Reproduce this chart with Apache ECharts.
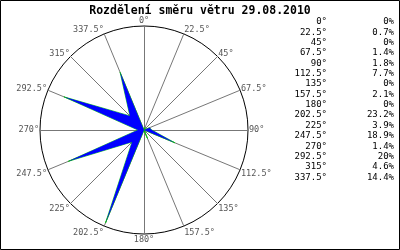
<!DOCTYPE html>
<html>
<head>
<meta charset="utf-8">
<script src="https://cdn.jsdelivr.net/npm/echarts@6/dist/echarts.min.js"></script>
<style>html,body{margin:0;padding:0;background:#fff}#c{width:400px;height:250px}</style>
</head>
<body>
<div id="c"></div>
<script>
var directions = [0, 22.5, 45, 67.5, 90, 112.5, 135, 157.5, 180, 202.5, 225, 247.5, 270, 292.5, 315, 337.5];
var percents = [0, 0.7, 0, 1.4, 1.8, 7.7, 0, 2.1, 0, 23.2, 3.9, 18.9, 1.4, 20, 4.6, 14.4];
var scaleMax = 24;
var titleText = 'Rozdělení směru větru 29.08.2010';

var mono = 'DejaVu Sans Mono';
var nameGap = 1;

// ECharts radar places indicators counter-clockwise; reorder so they run clockwise from north
var order = [0];
for (var i = directions.length - 1; i > 0; i--) order.push(i);
var indicators = order.map(function (i) { return { name: directions[i] + '°', max: scaleMax, min: 0 }; });
var vals = order.map(function (i) { return percents[i]; });

// per-label vertical nudge (label style): upper labels sit above the spoke end, lower ones below
var rich = {};
var nameIndex = {};
directions.forEach(function (d, i) {
  nameIndex[d + '°'] = i;
  var c = Math.cos(d * Math.PI / 180);
  var pad = [0, 0, 0, 0];
  if (Math.abs(Math.sin(d * Math.PI / 180)) > 0.01) {
    var shift = c > 0 ? -4.3 * c : (c < -0.01 ? 2.5 - 4.3 * c : 0);
    var extra = shift + nameGap * c;
    if (extra > 0) pad[0] = 2 * extra; else pad[2] = -2 * extra;
  }
  rich['s' + i] = { padding: pad, color: '#555', fontSize: 8.5, fontFamily: mono };
});

var rows = [];
directions.forEach(function (d, i) {
  var y = 22 + i * 10.35;
  rows.push({ type: 'text', style: { text: d + '°', x: 327, y: y, align: 'right', verticalAlign: 'middle', font: '9px "DejaVu Sans Mono"', fill: '#000' } });
  rows.push({ type: 'text', style: { text: percents[i] + '%', x: 394, y: y, align: 'right', verticalAlign: 'middle', font: '9px "DejaVu Sans Mono"', fill: '#000' } });
});
rows.push({ type: 'rect', shape: { x: 0.5, y: 0.5, width: 399, height: 249 }, style: { fill: 'none', stroke: '#000', lineWidth: 1 }, z: 100 });

var chart = echarts.init(document.getElementById('c'), null, { renderer: 'canvas' });
chart.setOption({
  animation: false,
  backgroundColor: '#fff',
  title: {
    text: titleText, left: 'center', top: 0,
    textStyle: { fontFamily: mono, fontWeight: 'bold', fontSize: 11.5, color: '#000' }
  },
  radar: {
    center: [144, 130],
    radius: 104,
    startAngle: 90,
    shape: 'circle',
    splitNumber: 1,
    indicator: indicators,
    nameGap: nameGap,
    axisName: {
      color: '#555', fontSize: 8.5, fontFamily: mono,
      formatter: function (name) { return '{s' + nameIndex[name] + '|' + name + '}'; },
      rich: rich
    },
    axisLine: { lineStyle: { color: '#777', width: 1 } },
    axisTick: { show: false },
    axisLabel: { show: false },
    splitLine: { lineStyle: { color: '#000', width: 1 } },
    splitArea: { show: false }
  },
  series: [
    {
      type: 'radar', symbol: 'none', z: 2,
      lineStyle: { color: '#00cc00', width: 0.8, join: 'round' },
      data: [{ value: vals }]
    },
    {
      type: 'radar', symbol: 'none', z: 3,
      lineStyle: { width: 0, color: '#0000ff' },
      areaStyle: { color: '#0000ff', opacity: 1 },
      data: [{ value: vals }]
    }
  ],
  graphic: rows
});
</script>
</body>
</html>
